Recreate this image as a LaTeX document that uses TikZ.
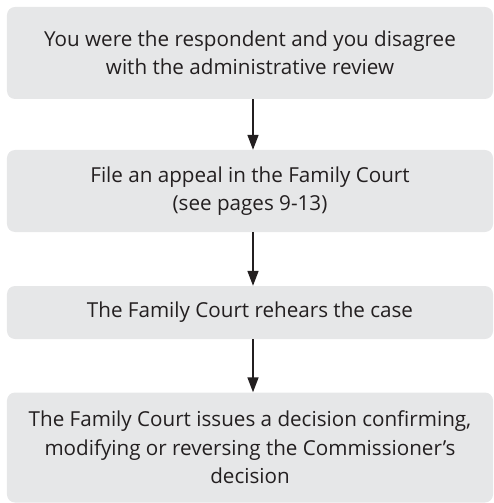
\documentclass[tikz,border=0pt]{standalone}
\usepackage{fontspec}
\setmainfont{Open Sans}
\usetikzlibrary{arrows.meta}
\definecolor{boxgrey}{HTML}{E6E7E8}
\definecolor{inkgrey}{HTML}{231F20}
\begin{document}
\begin{tikzpicture}[x=1bp,y=-1bp]
  \tikzstyle{stepbox}=[rectangle,rounded corners=8bp,fill=boxgrey,text=inkgrey,
    minimum width=486bp,align=center,inner sep=0pt,
    font=\fontsize{20.7}{28.5}\selectfont]
  \tikzstyle{flow}=[draw=inkgrey,line width=1.6pt,-{Triangle[length=15bp,width=11bp]}]
  \useasboundingbox (0,0) rectangle (494,503);

  \node[stepbox,minimum height=92bp] (respondent) at (250,53)
    {You were the respondent and you disagree\\with the administrative review};

  \node[stepbox,minimum height=82bp] (appeal) at (250,191)
    {File an appeal in the Family Court\\(see pages 9-13)};
  \draw[flow] ([xshift=3bp]respondent.south) -- ([xshift=3bp]appeal.north);

  \node[stepbox,minimum height=53bp] (rehear) at (250,312.5)
    {The Family Court rehears the case};
  \draw[flow] ([xshift=3bp]appeal.south) -- ([xshift=3bp]rehear.north);

  \node[stepbox,minimum height=110bp] (decision) at (250,447.5)
    {The Family Court issues a decision confirming,\\modifying or reversing the Commissioner’s\\decision};
  \draw[flow] ([xshift=3bp]rehear.south) -- ([xshift=3bp]decision.north);
\end{tikzpicture}
\end{document}
